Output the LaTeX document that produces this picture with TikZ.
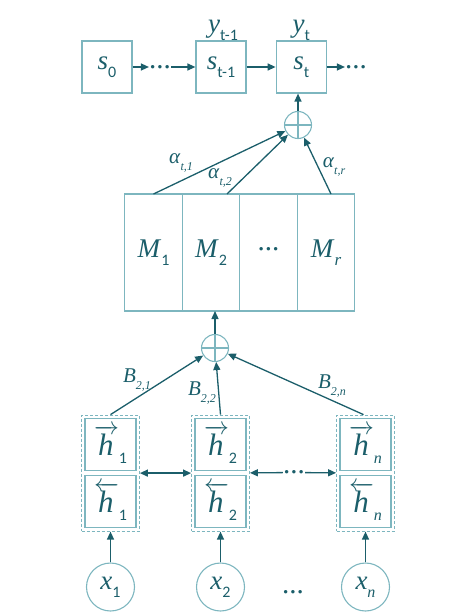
\documentclass[tikz,border=0pt]{standalone}
\usepackage{fontspec}
\setmainfont{Liberation Serif}
\newfontfamily\subfont{Carlito}
\usetikzlibrary{arrows.meta,positioning,fit}

\definecolor{ink}{RGB}{27,94,106}
\definecolor{frame}{RGB}{125,182,191}

\newcommand{\bigtxt}{\fontsize{27}{30}\selectfont}
\newcommand{\labtxt}{\fontsize{21}{24}\selectfont}
\newcommand{\ldts}{{\fontsize{29}{29}\selectfont...}}
% letter with a lowered index
\newcommand{\vsub}[2]{\textit{#1}\raisebox{-0.3em}{\fontsize{16}{16}\selectfont\subfont #2}}
\newcommand{\wsub}[2]{\textit{#1}\raisebox{-0.3em}{\fontsize{12}{12}\selectfont\itshape #2}}
\newcommand{\hvec}[2]{{\fontsize{31}{31}\selectfont$#1{\mbox{\itshape h\kern1pt}}$}\raisebox{-0.3em}{\fontsize{16}{16}\selectfont\subfont #2}}

\begin{document}
\begin{tikzpicture}[x=1pt,y=-1pt,>={Triangle[length=8pt,width=7pt]},
    every node/.style={text=ink},
    cell/.style={rectangle,draw=frame,line width=1.2pt,minimum width=50pt,minimum height=52pt,inner sep=0pt,font=\bigtxt},
    mem/.style={rectangle,draw=frame,line width=1.2pt,minimum width=57.5pt,minimum height=117pt,inner sep=0pt,outer sep=0pt,font=\bigtxt},
    hcell/.style={rectangle,draw=frame,line width=1.2pt,minimum width=51pt,minimum height=52pt,inner sep=0pt,font=\bigtxt},
    group/.style={rectangle,draw=frame,line width=1pt,dash pattern=on 3pt off 2pt,inner sep=2.8pt},
    xin/.style={circle,draw=frame,line width=1.1pt,minimum size=48pt,inner sep=0pt,font=\bigtxt},
    plus/.style={circle,draw=frame,line width=1.1pt,minimum size=27pt,inner sep=0pt,
      path picture={\draw[frame,line width=1.1pt] (path picture bounding box.north) -- (path picture bounding box.south)
        (path picture bounding box.west) -- (path picture bounding box.east);}},
    dots/.style={inner sep=0pt,font=\bigtxt},
    lab/.style={font=\labtxt},
    arr/.style={->,draw=ink,line width=1.3pt}]
  \useasboundingbox (0,0) rectangle (452,615);

  % decoder states
  \node[cell] (s0) at (107,67) {\vsub{s}{0}};
  \node[cell] (s1) at (221,67) {\vsub{s}{t-1}};
  \node[cell,right=29pt of s1] (st) {\vsub{s}{t}};
  \node[font=\bigtxt,above=-4pt of s1,xshift=2pt] (y1) {\vsub{y}{t-1}};
  \node[font=\bigtxt,above=-4pt of st] (yt) {\vsub{y}{t}};
  \node[dots] (d0) at (160,67) {\ldts};
  \node[dots] (d2) at (356,67) {\ldts};

  % memory
  \node[mem] (m1) at (153.5,252.5) {\vsub{M}{1}};
  \node[mem,right=0pt of m1] (m2) {\vsub{M}{2}};
  \node[mem,right=0pt of m2] (m3) {\raisebox{7pt}{\ldts}};
  \node[mem,right=0pt of m3] (m4) {\wsub{M}{\fontsize{17}{17}\selectfont r}};

  \node[plus] (sumt) at (298,125) {};
  \node[plus] (sumb) at (215,348) {};

  % encoder
  \node[hcell] (hf1) at (110.5,444.5) {\hvec{\overrightarrow}{1}};
  \node[hcell,below=4pt of hf1] (hb1) {\hvec{\overleftarrow}{1}};
  \node[hcell] (hf2) at (220.5,444.5) {\hvec{\overrightarrow}{2}};
  \node[hcell,below=4pt of hf2] (hb2) {\hvec{\overleftarrow}{2}};
  \node[hcell] (hfn) at (365.5,444.5) {\hvec{\overrightarrow}{\itshape\rmfamily n}};
  \node[hcell,below=4pt of hfn] (hbn) {\hvec{\overleftarrow}{\itshape\rmfamily n}};
  \node[group,fit=(hf1)(hb1)] (g1) {};
  \node[group,fit=(hf2)(hb2)] (g2) {};
  \node[group,fit=(hfn)(hbn)] (gn) {};
  \node[dots] (d3) at (294,472.5) {\ldts};

  \node[xin] (x1) at (110.5,587) {\vsub{x}{1}};
  \node[xin] (x2) at (220.5,587) {\vsub{x}{2}};
  \node[xin] (xn) at (365.5,587) {\vsub{x}{\itshape\rmfamily n}};
  \node[dots] (d4) at (293,592) {\ldts};

  % labels
  \node[lab] (a1) at (181,163) {\wsub{α}{t,1}};
  \node[lab] (a2) at (220,178) {\wsub{α}{t,2}};
  \node[lab] (ar) at (334,167) {\wsub{α}{t,r}};
  \node[lab] (b1) at (137,380) {\wsub{B}{2,1}};
  \node[lab] (b2) at (202,393) {\wsub{B}{2,2}};
  \node[lab] (bn) at (332,386) {\wsub{B}{2,n}};

  % connectors
  \draw[arr] (s0) -- (d0);
  \draw[arr] (d0) -- (s1);
  \draw[arr] (s1) -- (st);
  \draw[arr] (st) -- (d2);
  \draw[arr] (sumt) -- (sumt |- st.south);
  \draw[arr] (m1.north) -- (sumt);
  \draw[arr] ([xshift=16pt]m2.north) -- (sumt);
  \draw[arr] ([xshift=5pt]m4.north) -- (sumt);
  \draw[arr] (sumb) -- (sumb |- m2.south);
  \draw[arr] (g1.north) -- (sumb);
  \draw[arr] (g2.north) -- (sumb);
  \draw[arr] ([xshift=-2pt]gn.north) -- (sumb);
  \draw[arr,<->] (g1) -- (g2);
  \draw[arr,<-] (g2) -- (d3);
  \draw[arr] (d3) -- (gn);
  \draw[arr] (x1) -- (g1);
  \draw[arr] (x2) -- (g2);
  \draw[arr] (xn) -- (gn);
\end{tikzpicture}
\end{document}
